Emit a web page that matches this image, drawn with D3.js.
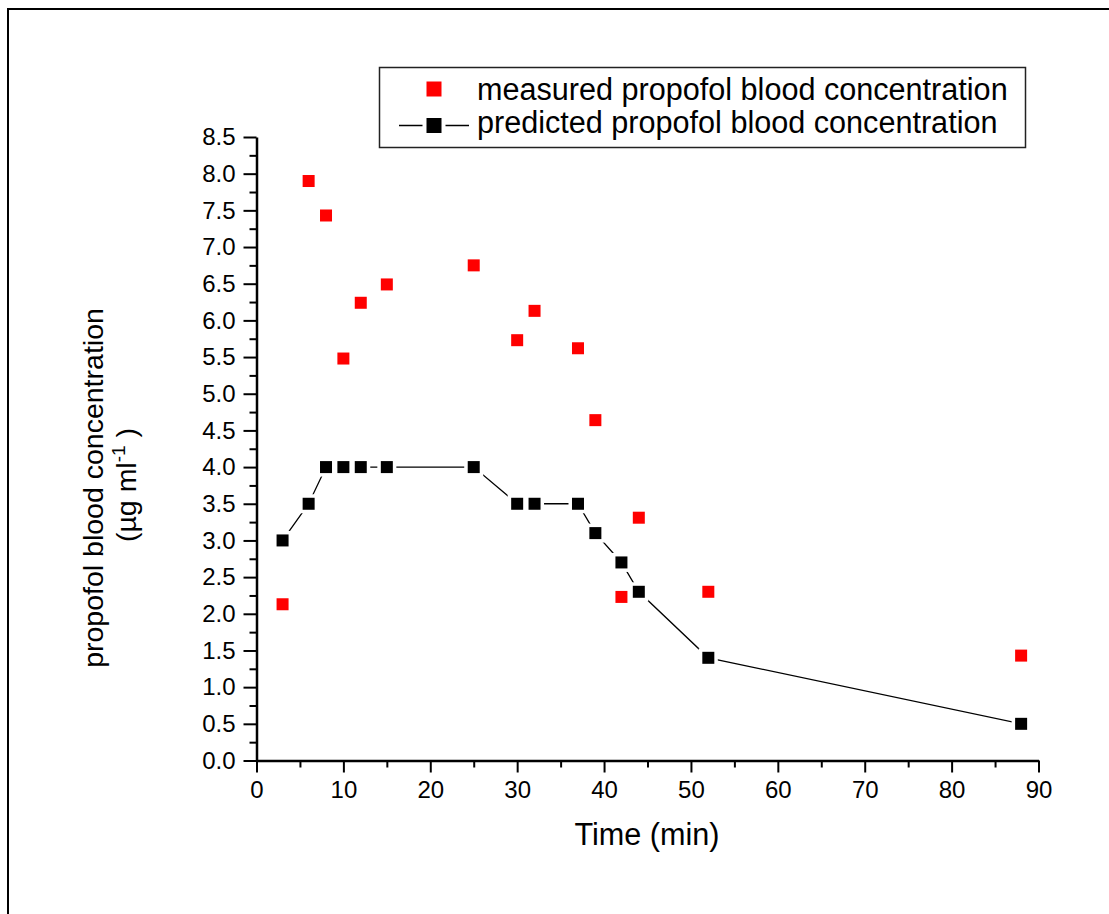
<!DOCTYPE html>
<html>
<head>
<meta charset="utf-8">
<script src="https://cdn.jsdelivr.net/npm/d3@7"></script>
<style>
  body { margin: 0; background: #fff; }
  svg { display: block; font-family: "Liberation Sans", Arial, sans-serif; }
</style>
</head>
<body>
<svg></svg>
<script>
// time points (min)
const timeMeasured = [3, 6, 8, 10, 12, 15, 25, 30, 32, 37, 39, 42, 44, 52, 88];
const measured = [2.13, 7.9, 7.43, 5.48, 6.24, 6.49, 6.75, 5.73, 6.13, 5.62, 4.64, 2.23, 3.31, 2.3, 1.43];

const timePredicted = [3, 6, 8, 10, 12, 15, 25, 30, 32, 37, 39, 42, 44, 52, 88];
const predicted = [3.0, 3.5, 4.0, 4.0, 4.0, 4.0, 4.0, 3.5, 3.5, 3.5, 3.1, 2.7, 2.3, 1.4, 0.5];

const xTicks = [0, 10, 20, 30, 40, 50, 60, 70, 80, 90];
const yTicks = [0, 0.5, 1, 1.5, 2, 2.5, 3, 3.5, 4, 4.5, 5, 5.5, 6, 6.5, 7, 7.5, 8, 8.5];

const legendLabels = ["measured propofol blood concentration", "predicted propofol blood concentration"];

const width = 1109, height = 914;
const marginLeft = 256.5, marginRight = 70.5, marginTop = 137, marginBottom = 153.5;

const svg = d3.select("svg")
  .attr("width", width)
  .attr("height", height)
  .attr("viewBox", [0, 0, width, height]);

// outer frame (runs off right and bottom edge)
svg.append("rect")
  .attr("x", 8).attr("y", 9)
  .attr("width", 1130).attr("height", 950)
  .attr("fill", "none")
  .attr("stroke", "#000")
  .attr("stroke-width", 2);

const x = d3.scaleLinear()
  .domain([0, 90])
  .range([marginLeft, width - marginRight]);

const y = d3.scaleLinear()
  .domain([0, 8.5])
  .range([height - marginBottom, marginTop]);

// minor ticks
svg.append("g")
  .attr("transform", `translate(0,${height - marginBottom})`)
  .call(d3.axisBottom(x).tickValues(d3.range(5, 90, 10)).tickSize(7).tickSizeOuter(0).tickFormat(""))
  .call(g => g.select(".domain").remove())
  .call(g => g.selectAll(".tick line").attr("stroke-width", 2));

svg.append("g")
  .attr("transform", `translate(${marginLeft},0)`)
  .call(d3.axisLeft(y).tickValues(d3.range(0.25, 8.5, 0.5)).tickSize(7).tickSizeOuter(0).tickFormat(""))
  .call(g => g.select(".domain").remove())
  .call(g => g.selectAll(".tick line").attr("stroke-width", 2));

// x axis
svg.append("g")
  .attr("transform", `translate(0,${height - marginBottom})`)
  .call(d3.axisBottom(x).tickValues(xTicks).tickSize(12).tickSizeOuter(0).tickPadding(8))
  .call(g => g.select(".domain").attr("stroke-width", 2.5))
  .call(g => g.selectAll(".tick line").attr("stroke-width", 2))
  .call(g => g.selectAll(".tick text")
    .attr("font-family", "Liberation Sans, Arial, sans-serif")
    .attr("font-size", 24)
    .attr("fill", "#000"));

// y axis
svg.append("g")
  .attr("transform", `translate(${marginLeft},0)`)
  .call(d3.axisLeft(y).tickValues(yTicks).tickSize(13).tickSizeOuter(0).tickPadding(8).tickFormat(d3.format(".1f")))
  .call(g => g.select(".domain").attr("stroke-width", 2.5))
  .call(g => g.selectAll(".tick line").attr("stroke-width", 2))
  .call(g => g.selectAll(".tick text")
    .attr("font-family", "Liberation Sans, Arial, sans-serif")
    .attr("font-size", 24)
    .attr("fill", "#000"));

// axis titles
svg.append("text")
  .attr("x", 647).attr("y", 845)
  .attr("text-anchor", "middle")
  .attr("font-size", 30.6)
  .text("Time (min)");

svg.append("text")
  .attr("transform", "translate(103,488) rotate(-90)")
  .attr("text-anchor", "middle")
  .attr("font-size", 28.5)
  .text("propofol blood concentration");

const yt2 = svg.append("text")
  .attr("transform", "translate(136,485) rotate(-90)")
  .attr("text-anchor", "middle")
  .attr("font-size", 28.5);
yt2.append("tspan").text("(\u00b5g  ml");
yt2.append("tspan").attr("font-size", 19).attr("dy", -11).text("-1");
yt2.append("tspan").attr("dy", 11).text(" )");

// predicted line
const pred = timePredicted.map((t, i) => [t, predicted[i]]);
const meas = timeMeasured.map((t, i) => [t, measured[i]]);

svg.append("path")
  .datum(pred)
  .attr("fill", "none")
  .attr("stroke", "#000")
  .attr("stroke-width", 1.3)
  .attr("d", d3.line().x(d => x(d[0])).y(d => y(d[1])));

const s = 12;
svg.append("g")
  .selectAll("rect")
  .data(pred)
  .join("rect")
  .attr("x", d => x(d[0]) - s / 2)
  .attr("y", d => y(d[1]) - s / 2)
  .attr("width", s).attr("height", s)
  .attr("fill", "#000")
  .attr("stroke", "#fff")
  .attr("stroke-width", 7)
  .attr("paint-order", "stroke");

svg.append("g")
  .selectAll("rect")
  .data(meas)
  .join("rect")
  .attr("x", d => x(d[0]) - s / 2)
  .attr("y", d => y(d[1]) - s / 2)
  .attr("width", s).attr("height", s)
  .attr("fill", "#ff0000");

// legend
const legend = svg.append("g");
legend.append("rect")
  .attr("x", 379.5).attr("y", 67.5)
  .attr("width", 646).attr("height", 80)
  .attr("fill", "#fff")
  .attr("stroke", "#222")
  .attr("stroke-width", 1.5);

const ls = 15;
legend.append("rect")
  .attr("x", 434 - ls / 2).attr("y", 89 - ls / 2)
  .attr("width", ls).attr("height", ls)
  .attr("fill", "#ff0000");

legend.append("line")
  .attr("x1", 399).attr("x2", 469)
  .attr("y1", 125.5).attr("y2", 125.5)
  .attr("stroke", "#000").attr("stroke-width", 1.3);
legend.append("rect")
  .attr("x", 434 - ls / 2).attr("y", 125.5 - ls / 2)
  .attr("width", ls).attr("height", ls)
  .attr("fill", "#000")
  .attr("stroke", "#fff")
  .attr("stroke-width", 8)
  .attr("paint-order", "stroke");

legend.selectAll("text.lab")
  .data(legendLabels)
  .join("text")
  .attr("class", "lab")
  .attr("x", 477)
  .attr("y", (d, i) => 99.5 + i * 33)
  .attr("font-size", 30.6)
  .text(d => d);
</script>
</body>
</html>
